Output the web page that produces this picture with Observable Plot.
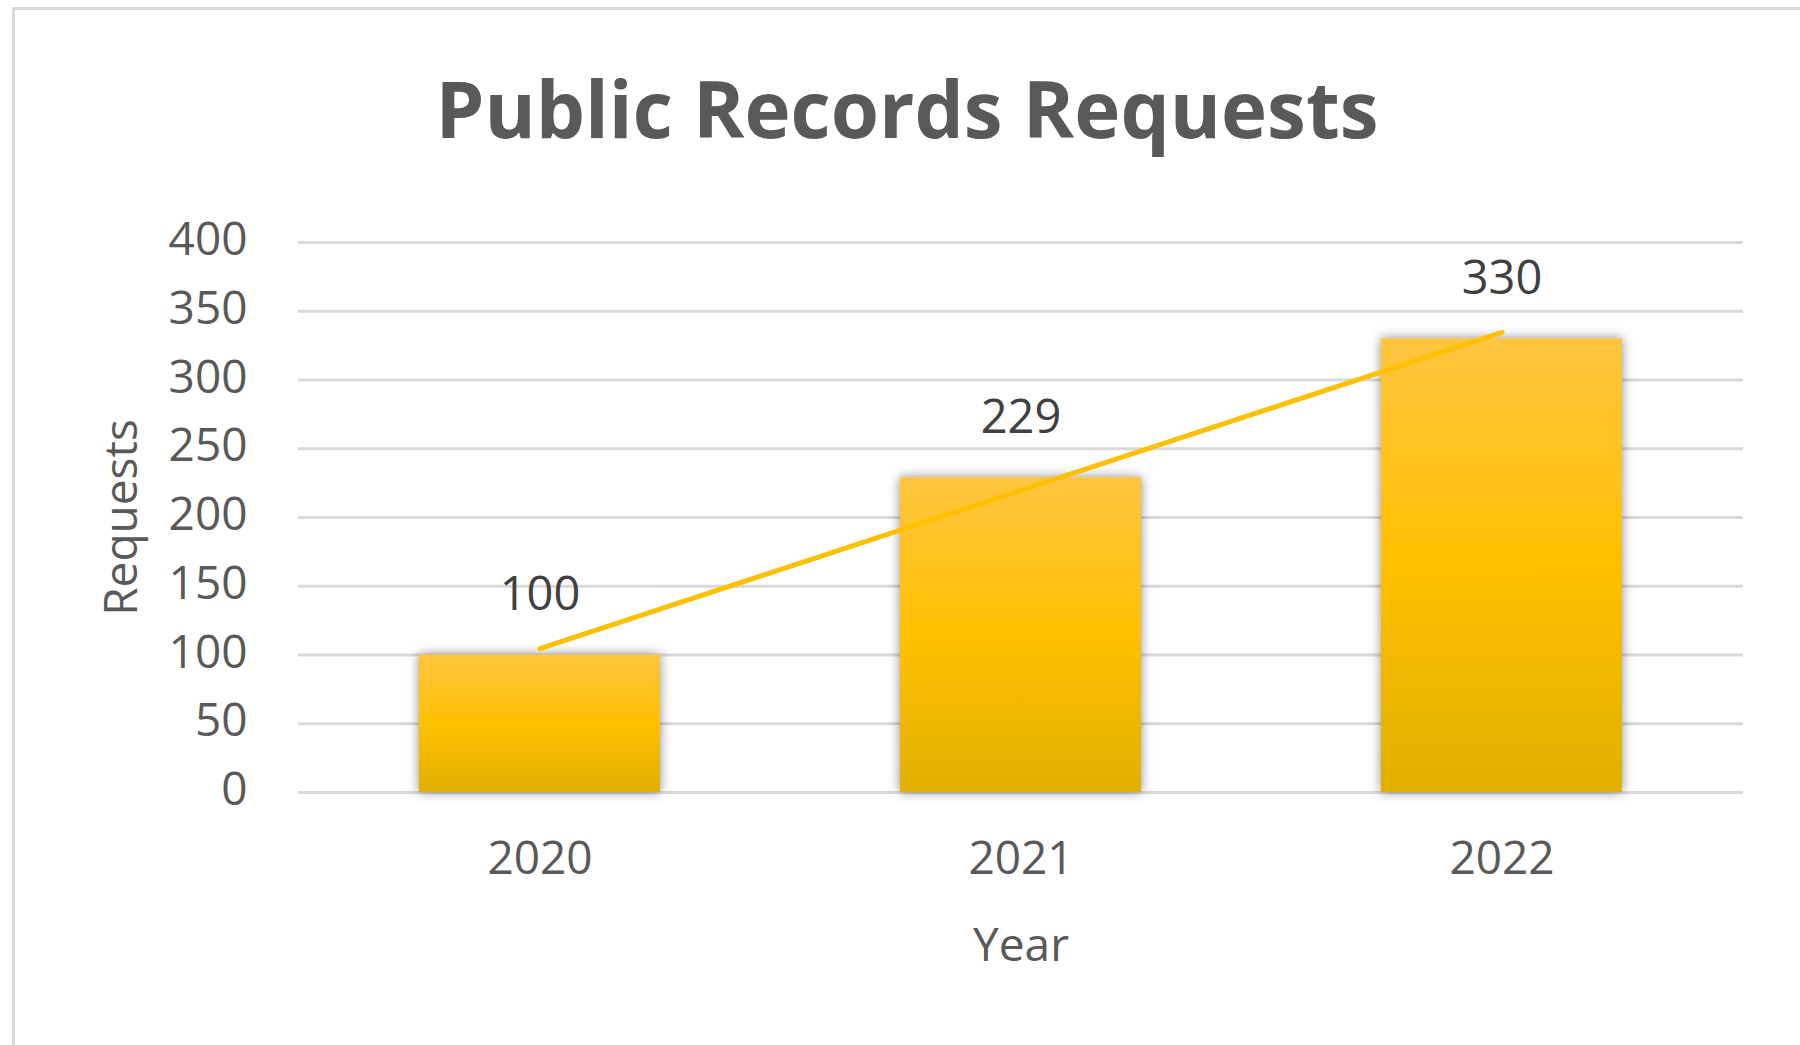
<!DOCTYPE html>
<html>
<head>
<meta charset="utf-8">
<script src="https://cdn.jsdelivr.net/npm/d3@7"></script>
<script src="https://cdn.jsdelivr.net/npm/@observablehq/plot@0.6"></script>
<style>
  html, body { margin: 0; padding: 0; background: #fff; }
  body { width: 1800px; height: 1045px; position: relative; overflow: hidden; font-family: "Open Sans", "Noto Sans", sans-serif; }
  #frame { position: absolute; left: 12px; top: 7px; width: 1800px; height: 1100px; border-left: 3px solid #D9D9D9; border-top: 3px solid #D9D9D9; box-sizing: border-box; }
  #title { position: absolute; left: 0; top: 62px; width: 1814px; text-align: center; font-size: 78px; font-weight: 700; color: #595959; line-height: 1.2; }
  #chart { position: absolute; left: 0; top: 170px; }
</style>
</head>
<body>
<div id="frame"></div>
<div id="title">Public Records Requests</div>
<div id="chart"></div>
<script>
// Data
const years = ["2020", "2021", "2022"];
const requests = [100, 229, 330];
const yTicks = [0, 50, 100, 150, 200, 250, 300, 350, 400];

const data = years.map((y, i) => ({year: y, value: requests[i], idx: i}));

// Linear trendline (least squares fit of the data, as the source chart's trendline)
const mx = d3.mean(data, d => d.idx), my = d3.mean(data, d => d.value);
const slope = d3.sum(data, d => (d.idx - mx) * (d.value - my)) / d3.sum(data, d => (d.idx - mx) ** 2);
const trend = data.map(d => ({year: d.year, value: my + slope * (d.idx - mx)}));

const font = "'Open Sans', 'Noto Sans', sans-serif";

const plot = Plot.plot({
  width: 1800,
  height: 830,
  marginLeft: 298,
  marginRight: 57,
  marginTop: 72,
  marginBottom: 208,
  style: {fontFamily: font, background: "transparent", overflow: "visible"},
  x: {domain: years, paddingInner: 0.5, paddingOuter: 0.25, label: null},
  y: {domain: [0, 400], label: null},
  marks: [
    Plot.gridY(yTicks, {stroke: "#D9D9D9", strokeOpacity: 1, strokeWidth: 3}),
    Plot.barY(data, {x: "year", y: "value", fill: "url(#barGrad)",
      render(index, scales, values, dimensions, context, next) {
        const g = next(index, scales, values, dimensions, context);
        g.setAttribute("filter", "url(#barShadow)");
        return g;
      }}),
    Plot.line(trend, {x: "year", y: "value", stroke: "#FFC000", strokeWidth: 5}),
    Plot.text(data, {x: "year", y: "value", text: d => String(d.value), dy: -60, fontSize: 47, fill: "#404040"}),
    Plot.axisY(yTicks, {tickSize: 0, tickPadding: 51, fontSize: 46, color: "#595959", label: null, dy: -2}),
    Plot.axisX({tickSize: 0, tickPadding: 49, fontSize: 46, color: "#595959", label: null}),
    Plot.text(["Requests"], {text: d => d, frameAnchor: "left", textAnchor: "middle", dx: -176, rotate: -90, fontSize: 46, fill: "#595959"}),
    Plot.text(["Year"], {text: d => d, frameAnchor: "bottom", dy: 168, fontSize: 46, fill: "#595959"})
  ]
});

// Gradient and shadow definitions
const ns = "http://www.w3.org/2000/svg";
const defs = document.createElementNS(ns, "defs");
defs.innerHTML = `
  <linearGradient id="barGrad" gradientUnits="objectBoundingBox" x1="0" y1="0" x2="0" y2="1">
    <stop offset="0" stop-color="#FFC540"/>
    <stop offset="0.5" stop-color="#FFC000"/>
    <stop offset="1" stop-color="#E0B000"/>
  </linearGradient>
  <filter id="barShadow" x="-20%" y="-20%" width="140%" height="140%">
    <feDropShadow dx="0" dy="0" stdDeviation="6" flood-color="#000" flood-opacity="0.45"/>
  </filter>`;
plot.insertBefore(defs, plot.firstChild);

document.getElementById("chart").appendChild(plot);
</script>
</body>
</html>
